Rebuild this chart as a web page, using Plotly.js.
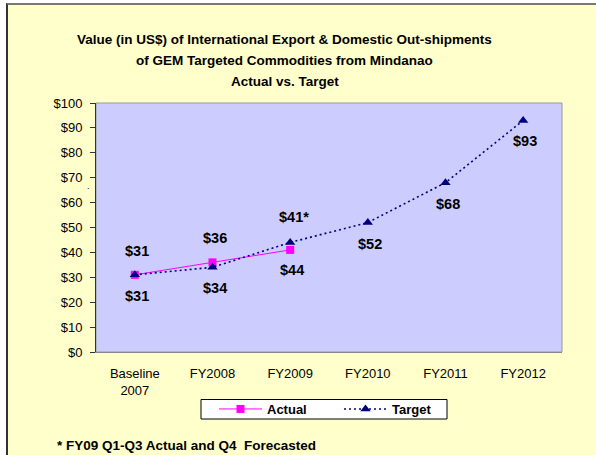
<!DOCTYPE html>
<html>
<head>
<meta charset="utf-8">
<script src="https://cdn.plot.ly/plotly-3.0.1.min.js"></script>
<style>
  html, body { margin: 0; padding: 0; background: #ffffff; }
  #frame { position: absolute; left: 6px; top: 3px; width: 600px; height: 460px;
           background: #FFFFCC; border-left: 2px solid #333333; border-top: 2px solid #777777; }
  #chart { position: absolute; left: 0; top: 0; width: 596px; height: 455px; }
</style>
</head>
<body>
<div id="frame"></div>
<div id="chart"></div>
<script>
// ---- data ----
var categories = ['Baseline<br>2007', 'FY2008', 'FY2009', 'FY2010', 'FY2011', 'FY2012'];
var actualValues = [31, 36, 41];
var actualLabels = ['$31', '$36', '$41*'];
var targetValues = [31, 34, 44, 52, 68, 93];
var targetLabels = ['$31', '$34', '$44', '$52', '$68', '$93'];
var yTickVals = [0, 10, 20, 30, 40, 50, 60, 70, 80, 90, 100];
var yTickText = ['$0', '$10', '$20', '$30', '$40', '$50', '$60', '$70', '$80', '$90', '$100'];
var titleLines = [
  'Value (in US$) of International Export &amp; Domestic Out-shipments',
  'of GEM Targeted Commodities from Mindanao',
  'Actual vs. Target'
];
var footnote = '* FY09 Q1-Q3 Actual and Q4\u00a0 Forecasted';

// ---- layout helpers (pixel -> paper) ----
var W = 596, H = 455, L = 96, R = 34, T = 103, B = 103;
var pw = W - L - R, ph = H - T - B;
function px(x) { return (x - L) / pw; }
function py(y) { return (H - B - y) / ph; }

var FONT = 'Liberation Sans, Arial, sans-serif';

var traces = [
  {
    x: categories.slice(0, actualValues.length), y: actualValues,
    name: 'Actual', type: 'scatter', mode: 'lines+markers',
    line: { color: '#FF00FF', width: 1 },
    marker: { symbol: 'square', size: 8, color: '#FF00FF' }
  },
  {
    x: categories, y: targetValues,
    name: 'Target', type: 'scatter', mode: 'lines+markers',
    line: { color: '#000080', width: 1.6, dash: '2px,3px' },
    marker: { symbol: 'triangle-up', size: 9, color: '#000080' }
  }
];

var annotations = [];
var titleY = [40, 60.5, 81];
titleLines.forEach(function (t, i) {
  annotations.push({ xref: 'paper', yref: 'paper', x: px(284.5), y: py(titleY[i]),
    xanchor: 'center', yanchor: 'middle', showarrow: false,
    text: '<b>' + t + '</b>', font: { family: FONT, size: 13.5, color: '#000' } });
});
actualValues.forEach(function (v, i) {
  annotations.push({ x: categories[i], y: v, xref: 'x', yref: 'y', showarrow: false,
    text: '<b>' + actualLabels[i] + '</b>', yanchor: 'middle',
    yshift: (i === 2 ? 33 : 24), xshift: (i === 2 ? 4 : 2),
    font: { family: FONT, size: 14.5, color: '#000' } });
});
targetValues.forEach(function (v, i) {
  annotations.push({ x: categories[i], y: v, xref: 'x', yref: 'y', showarrow: false,
    text: '<b>' + targetLabels[i] + '</b>', yanchor: 'middle',
    yshift: (i === 2 ? -28 : -21), xshift: 2,
    font: { family: FONT, size: 14.5, color: '#000' } });
});
annotations.push({ xref: 'paper', yref: 'paper', x: px(55), y: py(445),
  xanchor: 'left', yanchor: 'middle', showarrow: false,
  text: '<b>' + footnote + '</b>', font: { family: FONT, size: 13.5, color: '#000' } });
annotations.push({ xref: 'paper', yref: 'paper', x: px(88), y: py(186),
  xanchor: 'center', yanchor: 'middle', showarrow: false,
  text: '.', font: { family: FONT, size: 9, color: '#000' } });

var layout = {
  width: W, height: H,
  margin: { l: L, r: R, t: T, b: B, pad: 0 },
  paper_bgcolor: 'rgba(0,0,0,0)',
  plot_bgcolor: '#CCCCFF',
  showlegend: true,
  legend: {
    orientation: 'h', x: px(214), y: py(409), xanchor: 'left', yanchor: 'middle',
    bgcolor: 'rgba(0,0,0,0)', borderwidth: 0,
    font: { family: FONT, size: 13, color: '#000', weight: 'bold' },
    itemwidth: 43, entrywidth: 67, entrywidthmode: 'pixels', tracegroupgap: 0
  },
  xaxis: {
    type: 'category', range: [-0.5, 5.5],
    showgrid: false, zeroline: false,
    showline: true, linecolor: '#888888', linewidth: 1,
    ticks: '', ticklabelstandoff: 9,
    tickfont: { family: FONT, size: 13, color: '#000' }
  },
  yaxis: {
    range: [0, 100], tickvals: yTickVals, ticktext: yTickText,
    showgrid: false, zeroline: false,
    showline: true, linecolor: '#333333', linewidth: 1,
    ticks: 'outside', ticklen: 5, tickcolor: '#333333', ticklabelstandoff: 5,
    tickfont: { family: FONT, size: 13, color: '#000' }
  },
  shapes: [
    { type: 'rect', xref: 'paper', yref: 'paper', x0: 0, x1: 1, y0: 0, y1: 1,
      line: { color: '#999999', width: 1 }, layer: 'below' },
    { type: 'rect', xref: 'paper', yref: 'paper', x0: px(201), x1: px(447), y0: py(399.5), y1: py(419),
      fillcolor: '#FFFFFF', line: { color: '#000000', width: 1 }, layer: 'above' }
  ],
  annotations: annotations
};

Plotly.newPlot('chart', traces, layout, { displayModeBar: false, staticPlot: true });
</script>
</body>
</html>
